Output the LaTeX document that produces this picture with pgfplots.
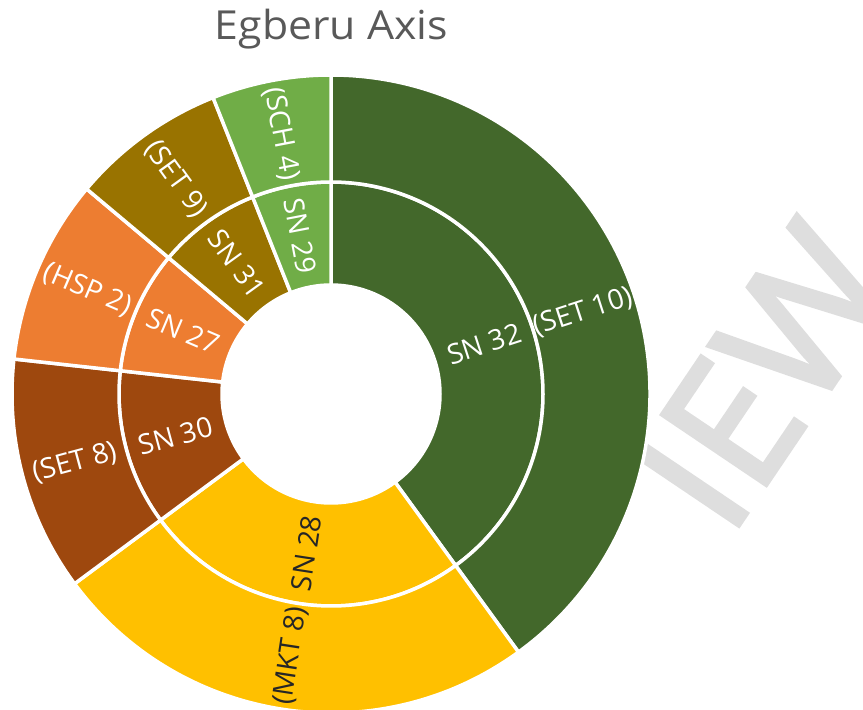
\documentclass[border=0pt]{standalone}
\usepackage{pgfplots}
\pgfplotsset{compat=1.18}
\usepackage{pgfplotstable}
\usepackage{fontspec}
\setmainfont{Open Sans}
\newfontfamily\wmfont{Open Sans}[FakeBold=2.5]

\definecolor{dkgreen}{HTML}{43682B}
\definecolor{ltgreen}{HTML}{70AD47}
\definecolor{gold}{HTML}{FFC000}
\definecolor{brown}{HTML}{9E480E}
\definecolor{orange}{HTML}{ED7D31}
\definecolor{olive}{HTML}{997300}
\definecolor{darktext}{HTML}{262626}
\definecolor{titlegray}{HTML}{595959}
\definecolor{wmgray}{HTML}{DEDEDE}

% angle share of each branch (degrees, clockwise from 12 o'clock)
\pgfplotstableread[col sep=comma]{
value,inner,outer,fillc,textc
144.0,SN 32,(SET 10),dkgreen,white
89.5,SN 28,(MKT 8),gold,darktext
42.8,SN 30,(SET 8),brown,white
33.7,SN 27,(HSP 2),orange,white
28.3,SN 31,(SET 9),olive,white
21.7,SN 29,(SCH 4),ltgreen,white
}\sunburst

\tikzset{lab/.style={font=\fontsize{28}{28}\selectfont}}

\begin{document}
\begin{tikzpicture}
\begin{axis}[
  scale only axis,
  width=863pt, height=710pt,
  xmin=-331, xmax=532,
  ymin=-316, ymax=394,
  hide axis, clip=false,
]
\addplot[draw=none] coordinates {(-331,-316) (532,394)};

% watermark behind the chart
\node[rotate=56, anchor=base west, text=wmgray, inner sep=0pt,
  font=\wmfont\fontsize{176}{176}\selectfont] at (axis cs:398,-146) {IEW};

\pgfplotstablegetrowsof{\sunburst}
\pgfmathtruncatemacro\nrows{\pgfplotsretval-1}
\def\cum{0}
\def\rH{109}\def\rM{212}\def\rO{319}
\pgfplotsforeachungrouped \i in {0,...,\nrows}{
  \pgfplotstablegetelem{\i}{value}\of\sunburst \let\val\pgfplotsretval
  \pgfplotstablegetelem{\i}{fillc}\of\sunburst \let\fc\pgfplotsretval
  \pgfmathsetmacro\aS{90-\cum}
  \pgfmathsetmacro\aE{90-\cum-\val}
  \pgfmathsetmacro\cum{\cum+\val}
  \edef\cmd{
    \noexpand\filldraw[fill=\fc, draw=white, line width=3.5pt, line join=round]
      ([shift={(\aS:\rH pt)}]axis cs:0,0) arc[start angle=\aS, end angle=\aE, radius=\rH pt]
      -- ([shift={(\aE:\rM pt)}]axis cs:0,0) arc[start angle=\aE, end angle=\aS, radius=\rM pt] -- cycle;
    \noexpand\filldraw[fill=\fc, draw=white, line width=3.5pt, line join=round]
      ([shift={(\aS:\rM pt)}]axis cs:0,0) arc[start angle=\aS, end angle=\aE, radius=\rM pt]
      -- ([shift={(\aE:\rO pt)}]axis cs:0,0) arc[start angle=\aE, end angle=\aS, radius=\rO pt] -- cycle;
  }
  \cmd
}
% labels on top of all sectors, turned along the radius
\def\cum{0}
\pgfplotsforeachungrouped \i in {0,...,\nrows}{
  \pgfplotstablegetelem{\i}{value}\of\sunburst \let\val\pgfplotsretval
  \pgfplotstablegetelem{\i}{inner}\of\sunburst \let\lin\pgfplotsretval
  \pgfplotstablegetelem{\i}{outer}\of\sunburst \let\lout\pgfplotsretval
  \pgfplotstablegetelem{\i}{textc}\of\sunburst \let\tc\pgfplotsretval
  \pgfmathsetmacro\aM{90-\cum-\val/2}
  \pgfmathsetmacro\rot{\aM<-90 ? \aM+180 : \aM}
  \pgfmathsetmacro\cum{\cum+\val}
  \edef\cmd{
    \noexpand\node[lab, text=\tc, rotate=\rot] at ([shift={(\aM:161pt)}]axis cs:0,0) {\lin};
    \noexpand\node[lab, text=\tc, rotate=\rot] at ([shift={(\aM:265pt)}]axis cs:0,0) {\lout};
  }
  \cmd
}

\node[anchor=base, text=titlegray, xscale=1.07, font=\fontsize{40}{40}\selectfont]
  at (axis cs:0.5,354) {Egberu Axis};
\end{axis}
\pgfresetboundingbox
\useasboundingbox (0,0) rectangle (863pt,710pt);
\end{tikzpicture}
\end{document}
